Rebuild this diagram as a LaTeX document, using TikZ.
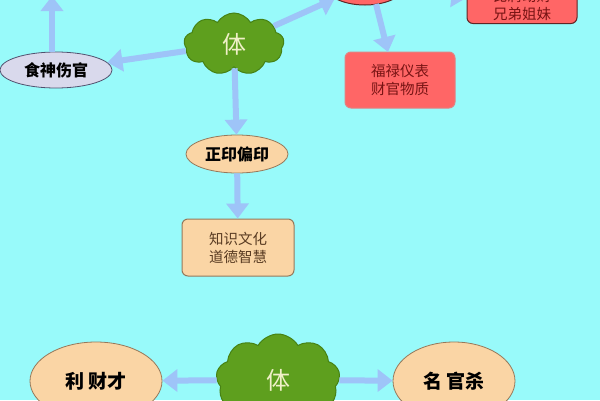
\documentclass[tikz,border=0pt]{standalone}
\usepackage{fontspec}
\setmainfont{Noto Sans CJK SC}
\usetikzlibrary{shapes.geometric,shapes.symbols,arrows.meta}
\definecolor{bg}{RGB}{152,250,250}
\definecolor{arrowc}{RGB}{158,196,248}
\definecolor{greenc}{RGB}{94,159,30}
\definecolor{greend}{RGB}{70,130,20}
\definecolor{peach}{RGB}{250,213,165}
\definecolor{peachd}{RGB}{150,120,90}
\definecolor{lav}{RGB}{217,217,236}
\definecolor{lavd}{RGB}{80,80,110}
\definecolor{redc}{RGB}{255,102,102}
\definecolor{redl}{RGB}{225,130,130}
\definecolor{redd}{RGB}{96,36,36}
\definecolor{redtxt}{RGB}{120,20,20}
\definecolor{browntxt}{RGB}{90,60,35}
\definecolor{cream}{RGB}{240,240,200}
\tikzset{
  arr/.style={draw=arrowc, line width=6pt, -{Triangle[width=22pt,length=15pt]}},
  cloudn/.style={cloud, cloud puffs=9, cloud puff arc=120, fill=greenc, draw=greend, line width=1pt, text=cream, font=\fontsize{24}{28}\selectfont, inner sep=0pt},
  oval/.style={ellipse, line width=0.8pt, font=\fontsize{16}{19}\selectfont\bfseries, inner sep=0pt},
  rbox/.style={rectangle, rounded corners=6pt, line width=1pt, align=center, font=\fontsize{14.5}{18}\selectfont, inner sep=0pt}
}
\begin{document}
\begin{tikzpicture}[x=1pt,y=-1pt]
\useasboundingbox (0,0) rectangle (600,400);
\fill[bg] (0,0) rectangle (600,400);
\clip (0,0) rectangle (600,400);
% top part
\node[cloudn, minimum width=100pt, minimum height=62pt] (t1) at (234,44) {体};
\node[oval, fill=lav, draw=lavd, minimum width=112pt, minimum height=36pt] (ss) at (56,70) {食神伤官};
\coordinate (up) at (52,-4);
\node[ellipse, fill=redc, draw=redd, line width=1pt, minimum width=80pt, minimum height=40pt] (re) at (365,-15) {};
\node[rbox, fill=redc, draw=redd, text=redtxt, minimum width=110pt, inner ysep=3pt, anchor=south] (bj) at (522,24) {比肩劫财\\兄弟姐妹};
\node[rbox, fill=redc, draw=redl, text=redtxt, minimum width=110pt, minimum height=56pt] (fl) at (400,80) {福禄仪表\\财官物质};
\node[oval, fill=peach, draw=peachd, minimum width=102pt, minimum height=38pt] (zy) at (237,154) {正印偏印};
\node[rbox, fill=peach, draw=peachd, text=browntxt, minimum width=112pt, minimum height=57pt] (zs) at (238,247.5) {知识文化\\道德智慧};
\coordinate (reb) at (376,4);
\coordinate (flt) at (388,52);
\draw[arr] (ss.north -| up) -- (up);
\draw[arr] (t1) -- (ss);
\draw[arr] (t1) -- (re);
\draw[arr] (re) -- (bj);
\draw[arr] (reb) -- (flt);
\draw[arr] (t1) -- (zy);
\draw[arr] (zy) -- (zs);
% bottom part
\node[cloudn, minimum width=124pt, minimum height=92pt] (t2) at (278,380) {体};
\node[oval, fill=peach, draw=peachd, minimum width=132pt, minimum height=78pt, font=\fontsize{19}{22}\selectfont\bfseries] (lc) at (96,381) {利 财才};
\node[oval, fill=peach, draw=peachd, minimum width=122pt, minimum height=78pt, font=\fontsize{19}{22}\selectfont\bfseries] (mg) at (454,381) {名 官杀};
\draw[arr] (t2) -- (lc);
\draw[arr] (t2) -- (mg);
\end{tikzpicture}
\end{document}
